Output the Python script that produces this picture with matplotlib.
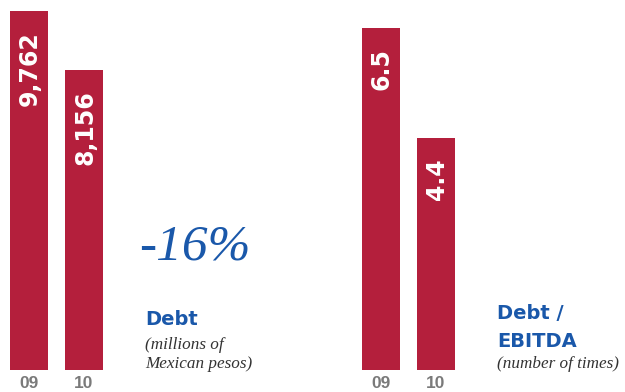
import matplotlib.pyplot as plt

# data
years = ['09', '10']
debt = [9762, 8156]
debt_labels = ['9,762', '8,156']
debt_ebitda = [6.5, 4.4]
debt_ebitda_labels = ['6.5', '4.4']

W, H = 625, 392
red = '#b41f3c'
blue = '#1a58aa'
gray = '#7a7a7a'

fig = plt.figure(figsize=(W / 100, H / 100), dpi=100)


def px(x, y):
    return x / W, 1 - y / H


def bars(left, values, labels, top):
    ax = fig.add_axes([left / W, 22 / H, 110 / W, 360 / H])
    ax.bar(range(len(values)), values, width=38 / 55, color=red)
    ax.set_xlim(-0.5, 1.5)
    ax.set_ylim(0, top)
    for i, (v, lab) in enumerate(zip(values, labels)):
        ax.annotate(lab, xy=(i, v), xytext=(1, -20), textcoords='offset pixels',
                    rotation=90, ha='center', va='top', color='white',
                    fontsize=17, fontweight='bold', family='DejaVu Sans')
    ax.set_xticks(range(len(values)), years)
    ax.tick_params(axis='x', length=0, pad=4, labelcolor=gray)
    for t in ax.get_xticklabels():
        t.set_fontsize(12.5)
        t.set_fontweight('bold')
        t.set_family(['Liberation Sans Narrow', 'Liberation Sans'])
    ax.set_yticks([])
    for s in ax.spines.values():
        s.set_visible(False)
    return ax


bars(1.5, debt, debt_labels, max(debt) * 360 / 359)
bars(353.5, debt_ebitda, debt_ebitda_labels, max(debt_ebitda) * 360 / 342)

serif = 'Liberation Serif'
sans = 'DejaVu Sans'

fig.text(*px(139, 259), '-16%', color=blue, fontsize=37, style='italic',
         family=serif, va='baseline')
fig.text(*px(145, 325), 'Debt', color=blue, fontsize=14, fontweight='bold',
         family=sans, va='baseline')
fig.text(*px(145, 349), '(millions of', color='#333333', fontsize=12.3,
         style='italic', family=serif, va='baseline')
fig.text(*px(145, 368), 'Mexican pesos)', color='#333333', fontsize=12.3,
         style='italic', family=serif, va='baseline')

fig.text(*px(497, 319), 'Debt /', color=blue, fontsize=14, fontweight='bold',
         family=sans, va='baseline')
fig.text(*px(497, 347), 'EBITDA', color=blue, fontsize=14, fontweight='bold',
         family=sans, va='baseline')
fig.text(*px(497, 368), '(number of times)', color='#333333', fontsize=12.3,
         style='italic', family=serif, va='baseline')

fig.savefig('out.png', dpi=100)
